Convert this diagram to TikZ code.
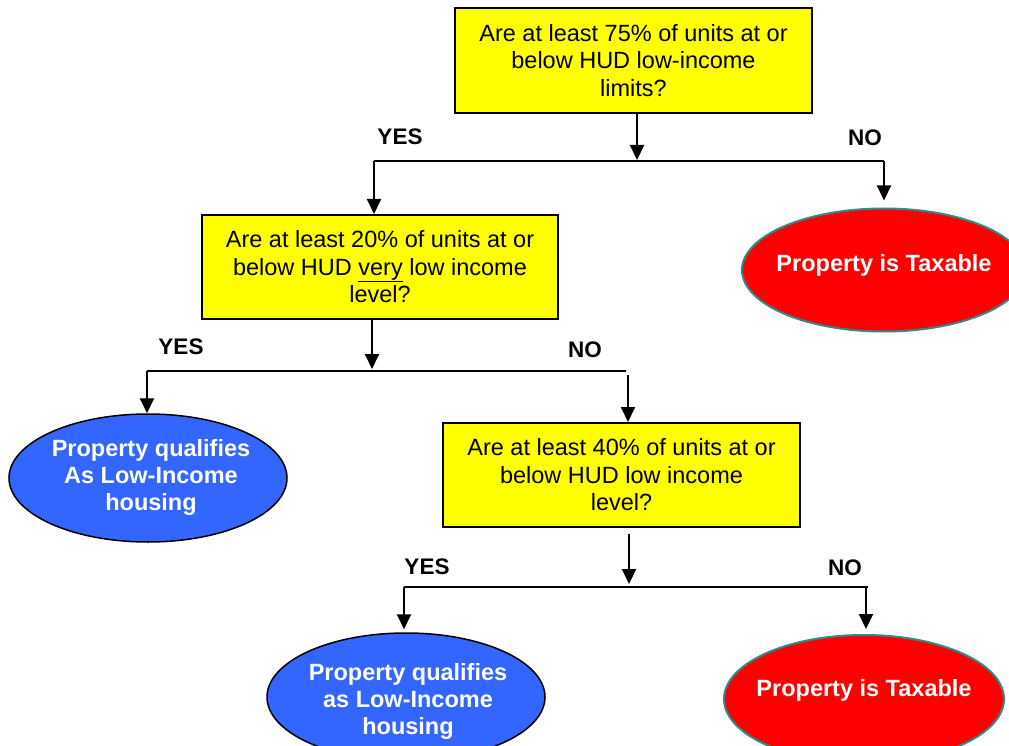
\documentclass[tikz,border=0pt]{standalone}
\usepackage{fontspec}
\setmainfont{Liberation Sans}
\usetikzlibrary{arrows.meta,shapes.geometric}
\definecolor{qyellow}{HTML}{FFFF00}
\definecolor{qblue}{HTML}{3366FF}
\definecolor{qred}{HTML}{FF0000}
\definecolor{qteal}{HTML}{2E8B8B}
\begin{document}
\begin{tikzpicture}[x=1pt,y=-1pt,
  qbox/.style={draw=black,line width=2pt,fill=qyellow,minimum width=357pt,minimum height=105pt,inner sep=0pt,align=center,font=\fontsize{23.5}{27.5}\selectfont},
  blueell/.style={ellipse,draw=black,line width=1.5pt,fill=qblue,inner sep=0pt,minimum width=278pt,minimum height=128pt},
  redell/.style={ellipse,draw=qteal,line width=2pt,fill=qred,inner sep=0pt},
  etext/.style={text=white,align=center,font=\fontsize{23.5}{27}\selectfont\bfseries},
  lab/.style={font=\fontsize{22.5}{26}\selectfont\bfseries,inner sep=0pt},
  conn/.style={line width=2pt},
  arr/.style={line width=2pt,-{Triangle[width=14pt,length=15pt]}}]
\useasboundingbox (0,0) rectangle (1009,746);
\clip (0,0) rectangle (1009,746);

% boxes
\node[qbox] (b1) at (633.5,60.5) {Are at least 75\% of units at or\\below HUD low-income\\limits?};
\node[qbox,minimum width=356pt,minimum height=104pt] (b2) at (380,267) {Are at least 20\% of units at or\\below HUD \underline{very} low income\\level?};
\node[qbox,minimum height=104pt] (b3) at (621.5,475) {Are at least 40\% of units at or\\below HUD low income\\level?};

% ellipses
\node[redell,minimum width=284pt,minimum height=123pt] (r1) at (884,270) {};
\node[etext] (r1t) at (884,265) {Property is Taxable};
\node[blueell] (e1) at (148,478) {};
\node[etext] (e1t) at (151,477.5) {Property qualifies\\As Low-Income\\housing};
\node[blueell] (e2) at (406,697) {};
\node[etext] (e2t) at (408,701) {Property qualifies\\as Low-Income\\housing};
\node[redell,minimum width=280pt,minimum height=128pt] (r2) at (864,699) {};
\node[etext] (r2t) at (864,690) {Property is Taxable};

% labels
\node[lab] (y1) at (400,137) {YES};
\node[lab] (n1) at (865,138) {NO};
\node[lab] (y2) at (181,347) {YES};
\node[lab] (n2) at (585,350) {NO};
\node[lab] (y3) at (427,567) {YES};
\node[lab] (n3) at (845,568) {NO};

% junction coordinates
\coordinate (j1) at (637,160);
\coordinate (l1) at (374,161);
\coordinate (m1) at (884,161);
\coordinate (j2) at (372,369);
\coordinate (l2) at (147,371);
\coordinate (m2) at (626,371);
\coordinate (s2) at (628,375);
\coordinate (j3) at (629,584);
\coordinate (l3) at (404,587);
\coordinate (m3) at (868,587);
\coordinate (s3) at (866,587);

% level 1
\draw[arr] (b1.south -| j1) -- (j1);
\draw[conn] (l1) -- (m1);
\draw[arr] (l1) -- (b2.north -| l1);
\draw[arr,shorten >=7pt] (m1) -- (r1.north);

% level 2
\draw[arr] (b2.south -| j2) -- (j2);
\draw[conn] (l2) -- (m2);
\draw[arr] (l2) -- (e1.north -| l2);
\draw[arr] (s2) -- (b3.north -| s2);

% level 3
\draw[arr,shorten <=6pt] (b3.south -| j3) -- (j3);
\draw[conn] (l3) -- (m3);
\draw[arr,shorten >=3pt] (l3) -- (e2.north -| l3);
\draw[arr,shorten >=5pt] (s3) -- (r2.north -| s3);
\end{tikzpicture}
\end{document}
